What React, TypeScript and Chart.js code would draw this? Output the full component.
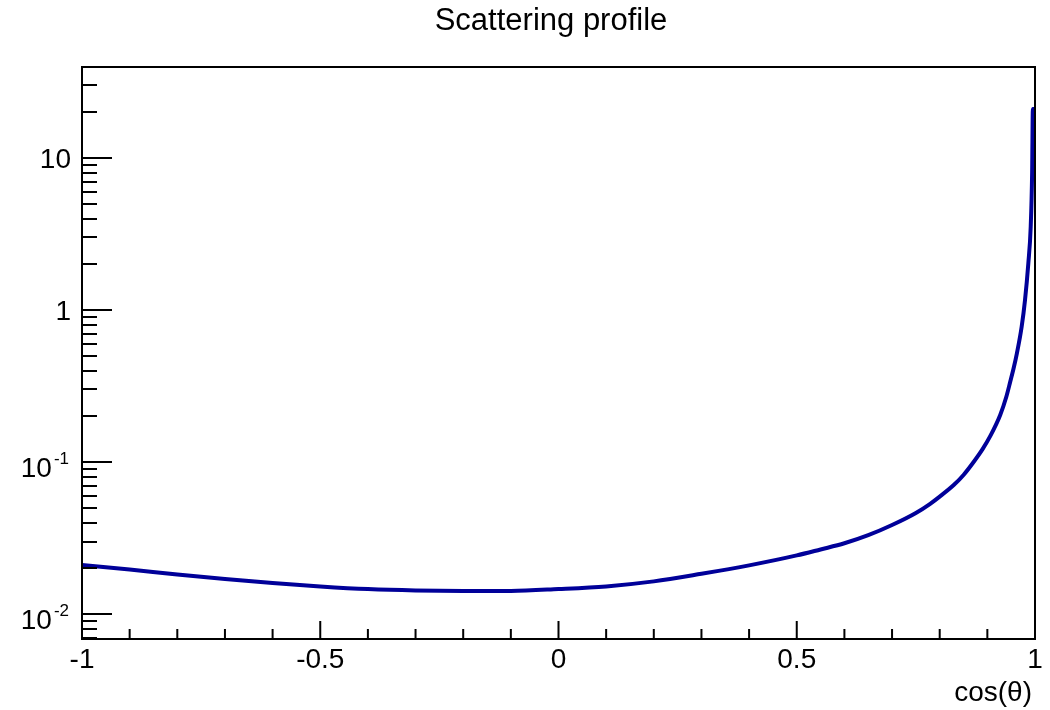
import React, { useEffect, useRef } from "react";
import { Chart, registerables } from "chart.js";

Chart.register(...registerables);

// ---- data ----
const cosTheta = [
  -1.0, -0.9, -0.8, -0.7, -0.6, -0.5, -0.4, -0.3, -0.2, -0.1,
  0.0, 0.1, 0.2, 0.3, 0.4, 0.5, 0.55, 0.6, 0.65, 0.7,
  0.75, 0.78, 0.8, 0.83, 0.85, 0.87, 0.89, 0.906, 0.927, 0.94,
  0.948, 0.955, 0.962, 0.972, 0.979, 0.986, 0.991, 0.994, 0.9955, 1.0,
];
const intensity = [
  0.021, 0.0196, 0.0182, 0.017, 0.016, 0.0152, 0.0146, 0.0143, 0.0142, 0.0142,
  0.0146, 0.0152, 0.0164, 0.0184, 0.0209, 0.0243, 0.0266, 0.0292, 0.033, 0.0385,
  0.0462, 0.0531, 0.0592, 0.0708, 0.0822, 0.0989, 0.1216, 0.148, 0.204, 0.27,
  0.337, 0.412, 0.519, 0.776, 1.16, 2.03, 3.53, 8.1, 21, 21,
];

const xMin = -1;
const xMax = 1;
const yMin = 0.00685;
const yMax = 39.7;

const xMajorTicks = [-1, -0.5, 0, 0.5, 1];
const xTickLabels = ["-1", "-0.5", "0", "0.5", "1"];
const xMinorTicks = [-0.9, -0.8, -0.7, -0.6, -0.4, -0.3, -0.2, -0.1, 0.1, 0.2, 0.3, 0.4, 0.6, 0.7, 0.8, 0.9];

const yMajorTicks = [0.01, 0.1, 1, 10];
const yTickBases = ["10", "10", "1", "10"];
const yTickExps = ["-2", "-1", "", ""];
const yMinorTicks = [
  0.007, 0.008, 0.009,
  0.02, 0.03, 0.04, 0.05, 0.06, 0.07, 0.08, 0.09,
  0.2, 0.3, 0.4, 0.5, 0.6, 0.7, 0.8, 0.9,
  2, 3, 4, 5, 6, 7, 8, 9,
  20, 30,
];

const chartTitle = "Scattering profile";
const xAxisTitle = "cos(θ)";

const FONT = "'Liberation Sans', Arial, Helvetica, sans-serif";

const framePlugin = {
  id: "rootFrame",
  afterDraw(chart: any) {
    const { ctx, chartArea: a, scales } = chart;
    const xs = scales.x;
    const ys = scales.y;
    ctx.save();
    ctx.strokeStyle = "#000";
    ctx.lineWidth = 2;
    ctx.strokeRect(a.left, a.top, a.right - a.left, a.bottom - a.top);

    ctx.beginPath();
    xMajorTicks.forEach((v) => {
      const px = xs.getPixelForValue(v);
      ctx.moveTo(px, a.bottom);
      ctx.lineTo(px, a.bottom - 18);
    });
    xMinorTicks.forEach((v) => {
      const px = xs.getPixelForValue(v);
      ctx.moveTo(px, a.bottom);
      ctx.lineTo(px, a.bottom - 10);
    });
    yMajorTicks.forEach((v) => {
      const py = Math.round(ys.getPixelForValue(v));
      ctx.moveTo(a.left, py);
      ctx.lineTo(a.left + 30, py);
    });
    yMinorTicks.forEach((v) => {
      const py = Math.round(ys.getPixelForValue(v));
      ctx.moveTo(a.left, py);
      ctx.lineTo(a.left + 15, py);
    });
    ctx.stroke();

    ctx.fillStyle = "#000";
    // x tick labels
    ctx.font = `28px ${FONT}`;
    ctx.textAlign = "center";
    ctx.textBaseline = "alphabetic";
    xMajorTicks.forEach((v, i) => {
      const px = xs.getPixelForValue(v);
      ctx.fillText(xTickLabels[i], px, a.bottom + 29);
    });

    // y tick labels
    const labelRight = a.left - 11;
    yMajorTicks.forEach((v, i) => {
      const py = ys.getPixelForValue(v);
      const base = yTickBases[i];
      const exp = yTickExps[i];
      ctx.textAlign = "right";
      if (exp) {
        ctx.font = `17px ${FONT}`;
        const ew = ctx.measureText(exp).width;
        ctx.fillText(exp, labelRight - 2, py + 2);
        ctx.font = `28px ${FONT}`;
        ctx.fillText(base, labelRight - 2 - ew - 2, py + 15);
      } else {
        ctx.font = `28px ${FONT}`;
        ctx.fillText(base, labelRight, py + 10);
      }
    });

    // title
    ctx.font = `31px ${FONT}`;
    ctx.textAlign = "center";
    ctx.fillText(chartTitle, 551, 30);

    // x axis title
    ctx.font = `28px ${FONT}`;
    ctx.textAlign = "right";
    ctx.fillText(xAxisTitle, a.right - 3, 701);
    ctx.restore();
  },
};

export default function App() {
  const canvasRef = useRef<HTMLCanvasElement | null>(null);

  useEffect(() => {
    const canvas = canvasRef.current;
    if (!canvas) return;
    const chart = new Chart(canvas, {
      type: "line",
      data: {
        datasets: [
          {
            data: cosTheta.map((x, i) => ({ x, y: intensity[i] })),
            borderColor: "#000099",
            borderWidth: 4,
            pointRadius: 0,
            cubicInterpolationMode: "monotone",
            fill: false,
          },
        ],
      },
      options: {
        responsive: false,
        animation: false,
        devicePixelRatio: 1,
        layout: { padding: { left: 82, top: 67, right: 15, bottom: 71 } },
        plugins: {
          legend: { display: false },
          tooltip: { enabled: false },
          title: { display: false },
        },
        scales: {
          x: { type: "linear", min: xMin, max: xMax, display: false },
          y: { type: "logarithmic", min: yMin, max: yMax, display: false },
        },
      },
      plugins: [framePlugin],
    } as any);
    return () => chart.destroy();
  }, []);

  return (
    <div
      style={{
        position: "absolute",
        left: 0,
        top: 0,
        width: 1050,
        height: 710,
        background: "#ffffff",
      }}
    >
      <canvas ref={canvasRef} width={1050} height={710} style={{ display: "block" }} />
    </div>
  );
}
